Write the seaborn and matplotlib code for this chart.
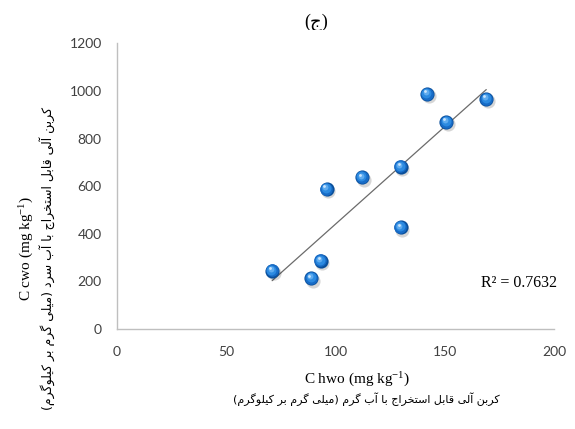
import matplotlib
matplotlib.use("Agg")
import matplotlib.pyplot as plt
import matplotlib.transforms as mtransforms
from matplotlib.patches import Rectangle
import seaborn as sns
import pandas as pd

# Hot-water vs cold-water extractable organic carbon (mg/kg)
c_hwo = [71.0, 88.9, 93.2, 95.9, 112.1, 129.8, 129.8, 141.9, 150.7, 169.0]
c_cwo = [245, 213, 287, 587, 637, 682, 427, 986, 869, 965]
x_ticks = [0, 50, 100, 150, 200]
y_ticks = [0, 200, 400, 600, 800, 1000, 1200]
r2_text = "R\u00b2 = 0.7632"
panel_title = "(\u062c)"
x_label = "C hwo (mg kg$^{-1}$)"
y_label = "C cwo (mg kg$^{-1}$)"
x_label_fa = "کربن آلی قابل استخراج با آب گرم (میلی گرم بر کیلوگرم)"
y_label_fa = "کربن آلی قابل استخراج با آب سرد (میلی گرم بر کیلوگرم)"

# Minimal Persian shaping: contextual presentation forms + right-to-left order
FORMS = {
    "\u0622": ("\uFE81", "\uFE82", None, None),
    "\u0627": ("\uFE8D", "\uFE8E", None, None),
    "\u0628": ("\uFE8F", "\uFE90", "\uFE91", "\uFE92"),
    "\u062A": ("\uFE95", "\uFE96", "\uFE97", "\uFE98"),
    "\u062C": ("\uFE9D", "\uFE9E", "\uFE9F", "\uFEA0"),
    "\u062E": ("\uFEA5", "\uFEA6", "\uFEA7", "\uFEA8"),
    "\u062F": ("\uFEA9", "\uFEAA", None, None),
    "\u0631": ("\uFEAD", "\uFEAE", None, None),
    "\u0633": ("\uFEB1", "\uFEB2", "\uFEB3", "\uFEB4"),
    "\u0642": ("\uFED5", "\uFED6", "\uFED7", "\uFED8"),
    "\u0644": ("\uFEDD", "\uFEDE", "\uFEDF", "\uFEE0"),
    "\u0645": ("\uFEE1", "\uFEE2", "\uFEE3", "\uFEE4"),
    "\u0646": ("\uFEE5", "\uFEE6", "\uFEE7", "\uFEE8"),
    "\u0648": ("\uFEED", "\uFEEE", None, None),
    "\u06A9": ("\uFB8E", "\uFB8F", "\uFB90", "\uFB91"),
    "\u06AF": ("\uFB92", "\uFB93", "\uFB94", "\uFB95"),
    "\u06CC": ("\uFBFC", "\uFBFD", "\uFBFE", "\uFBFF"),
}


def shape_fa(text):
    out = []
    for i, ch in enumerate(text):
        forms = FORMS.get(ch)
        if forms is None:
            out.append(ch)
            continue
        prev = text[i - 1] if i > 0 else ""
        nxt = text[i + 1] if i + 1 < len(text) else ""
        join_prev = prev in FORMS and FORMS[prev][2] is not None
        join_next = forms[2] is not None and nxt in FORMS
        if join_prev and join_next:
            out.append(forms[3])
        elif join_prev:
            out.append(forms[1])
        elif join_next:
            out.append(forms[2])
        else:
            out.append(forms[0])
    visual = "".join(reversed(out))
    return visual.translate(str.maketrans("()", ")("))


sns.set_theme(style="white")
plt.rcParams["font.family"] = ["Lato", "DejaVu Sans"]
plt.rcParams["mathtext.fontset"] = "custom"
plt.rcParams["mathtext.rm"] = "Liberation Serif"
plt.rcParams["mathtext.it"] = "Liberation Serif:italic"
plt.rcParams["mathtext.bf"] = "Liberation Serif:bold"

df = pd.DataFrame({"hwo": c_hwo, "cwo": c_cwo})

fig = plt.figure(figsize=(5.75, 4.29), dpi=100)
ax = fig.add_axes([117 / 575, 1 - 329 / 429, (554 - 117) / 575, (329 - 43.3) / 429])

# Linear trend line across the data range
sns.regplot(data=df, x="hwo", y="cwo", ax=ax, scatter=False, ci=None,
            truncate=True, color="#6b6b6b", line_kws={"lw": 0.9, "zorder": 2})


def off(dx, dy):
    return mtransforms.offset_copy(ax.transData, fig=fig, x=dx, y=dy, units="points")


# Glossy sphere markers built from stacked discs
layers = [
    (1.2, -1.6, 104, "#000000", 0.16, 3),
    (0.0, 0.0, 104, "#0a4f9a", 1.0, 4),
    (-0.2, 0.3, 82, "#176bc6", 1.0, 5),
    (-0.5, 0.7, 50, "#2c8ae0", 1.0, 6),
    (-0.9, 1.3, 18, "#60acef", 1.0, 7),
    (-1.5, 2.0, 4, "#d6ecff", 0.9, 8),
]
for dx, dy, s, col, a, z in layers:
    sns.scatterplot(data=df, x="hwo", y="cwo", ax=ax, s=s, color=col, alpha=a,
                    linewidth=0, legend=False, zorder=z, transform=off(dx, dy))

ax.set_xlim(0, 200)
ax.set_ylim(0, 1200)
ax.set_xticks(x_ticks)
ax.set_yticks(y_ticks)
ax.set_xticklabels([str(t) for t in x_ticks])
ax.set_yticklabels([str(t) for t in y_ticks])
ax.set_xlabel("")
ax.set_ylabel("")

for side in ("top", "right"):
    ax.spines[side].set_visible(False)
for side in ("left", "bottom"):
    ax.spines[side].set_color("#bfbfbf")
    ax.spines[side].set_linewidth(1.0)

ax.tick_params(axis="both", which="major", direction="out", length=4,
               width=1.0, color="#bfbfbf", labelsize=10, labelcolor="#404040")
ax.tick_params(axis="y", pad=7)
ax.tick_params(axis="x", pad=8)


def fig_px(x, y):
    return x / 575, 1 - y / 429


fig.text(*fig_px(557, 283), r2_text, ha="right", va="center",
         fontsize=11.5, family="Liberation Serif", color="#000000")

serif = ["Liberation Serif", "DejaVu Sans"]

fig.text(*fig_px(316, 22), panel_title, ha="center", va="center",
         fontsize=13, family=serif, color="#000000")
# white band hides the lower part of the panel letter
fig.patches.append(Rectangle(fig_px(240, 40), 150 / 575, 10 / 429,
                             transform=fig.transFigure, facecolor="white",
                             edgecolor="none", zorder=10))

fig.text(*fig_px(357, 380), x_label, ha="center", va="center",
         fontsize=11, family="Liberation Serif", color="#000000")
fig.text(*fig_px(366, 399), shape_fa(x_label_fa), ha="center", va="center",
         fontsize=8, family="DejaVu Sans", color="#000000")

fig.text(*fig_px(27, 248), y_label, ha="center", va="center", rotation=90,
         fontsize=11, family="Liberation Serif", color="#000000")
fig.text(*fig_px(47, 107), shape_fa(y_label_fa), ha="center", va="top",
         rotation=90, fontsize=9, family="DejaVu Sans", color="#000000")

fig.savefig("out.png", dpi=100, facecolor="white")
